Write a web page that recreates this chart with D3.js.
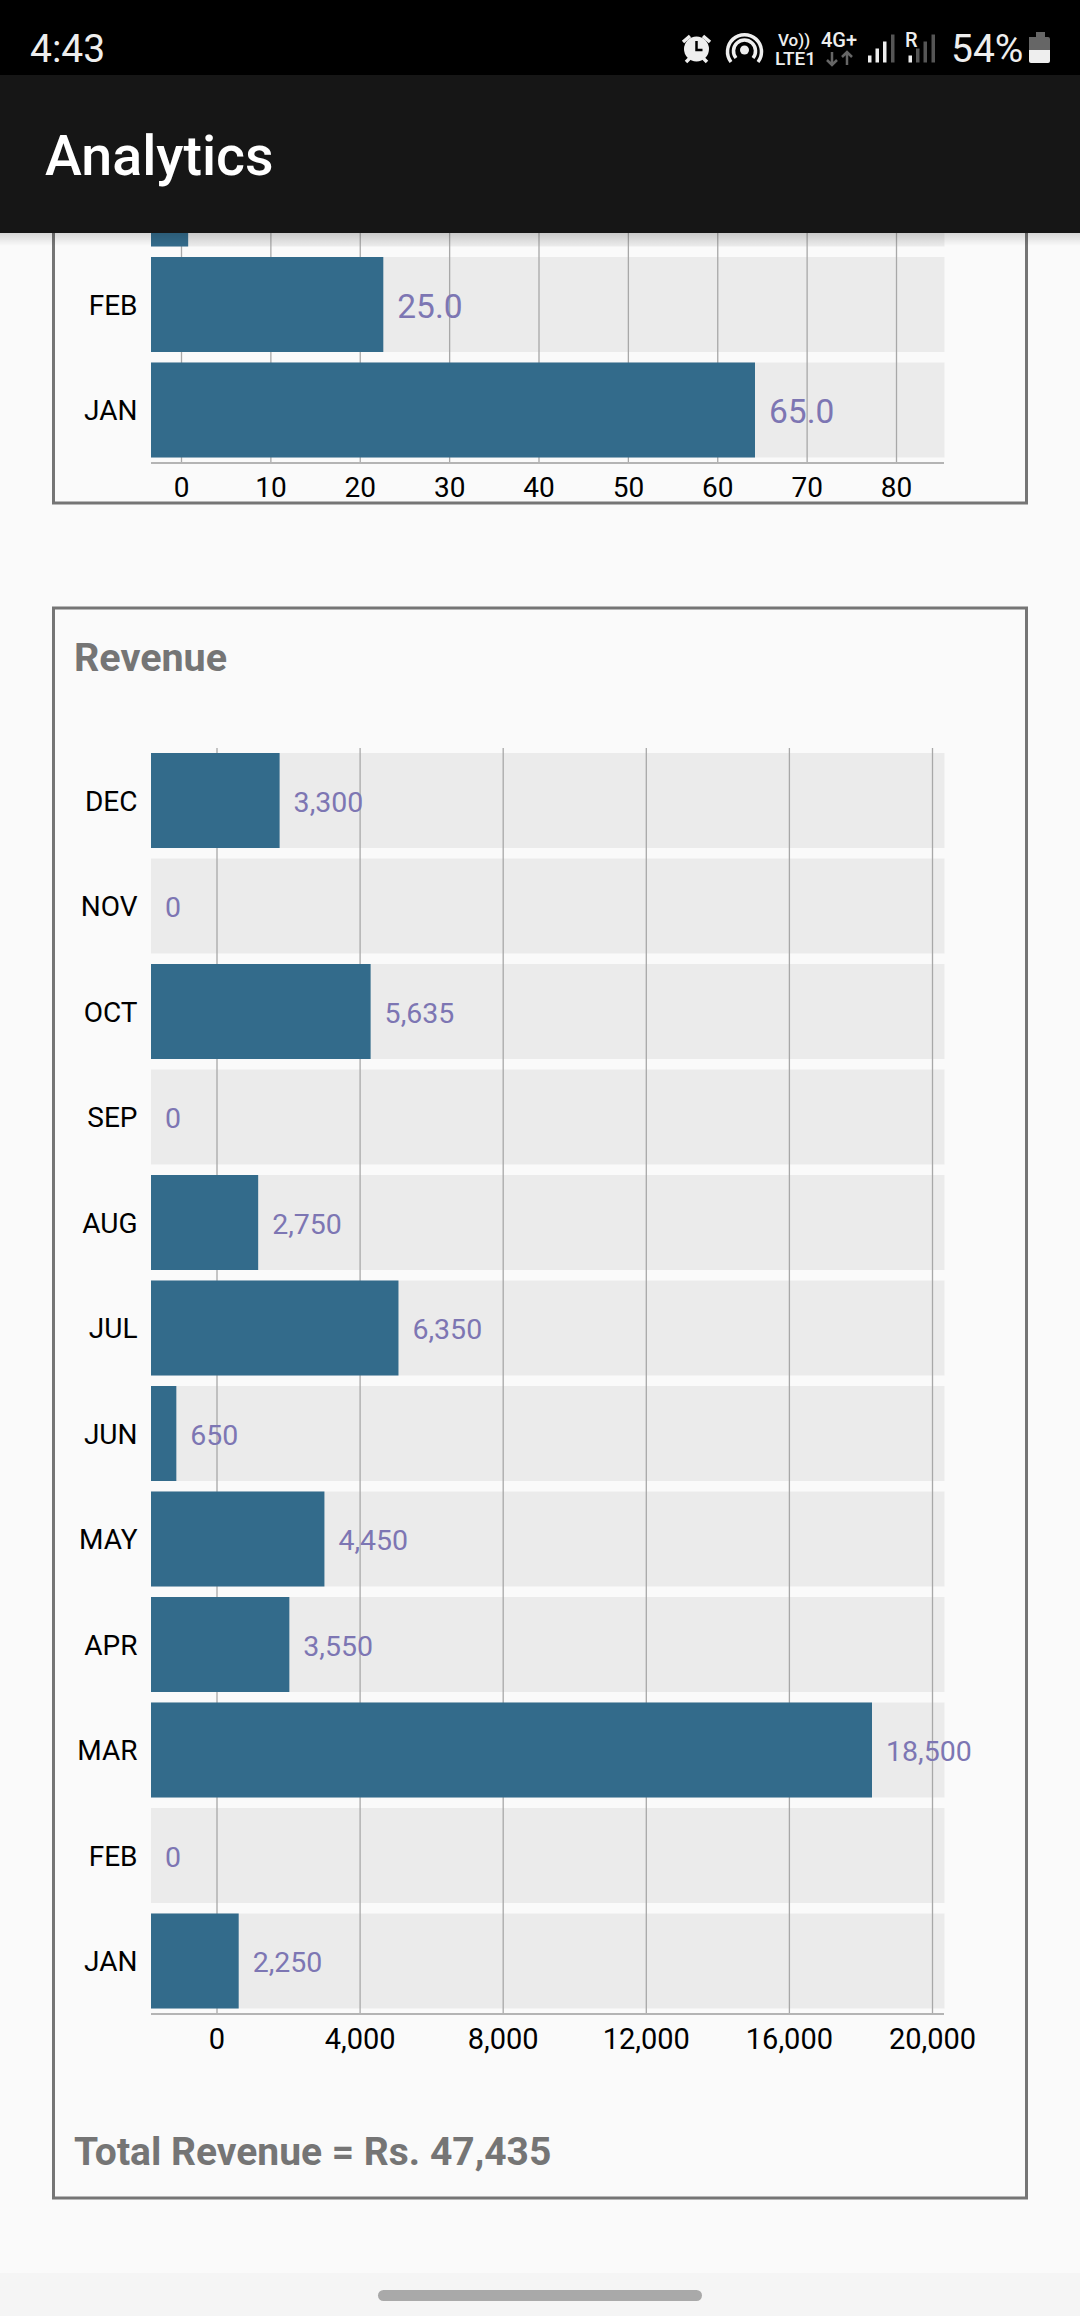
<!DOCTYPE html>
<html><head><meta charset="utf-8">
<script src="https://cdn.jsdelivr.net/npm/d3@7"></script>
<style>
html,body{margin:0;padding:0;background:#fafafa}
svg{display:block}
text{font-family:Roboto,sans-serif}
</style></head><body>
<svg id="c" width="1080" height="2316"></svg>
<script>
const usageCategories = ["MAR","FEB","JAN"];
const usageVisibleNames = ["", "FEB", "JAN"];
const usageValues = [4, 25, 65];
const usageLabels = ["", "25.0", "65.0"];
const usageTicks = [0,10,20,30,40,50,60,70,80];

const revenueCategories = ["DEC","NOV","OCT","SEP","AUG","JUL","JUN","MAY","APR","MAR","FEB","JAN"];
const revenueValues = [3300,0,5635,0,2750,6350,650,4450,3550,18500,0,2250];
const revenueTicks = [0,4000,8000,12000,16000,20000];

const cBar="#336b8b", cTrack="#ebebeb", cGrid="#a8a8a8", cAxis="#b4b4b4", cVal="#7d76b3", cCard="#757575";
const svg=d3.select("#c");
const fmt=d3.format(",");

// cards
function card(top,bottom){
  svg.append("rect").attr("x",53.5).attr("y",top).attr("width",973).attr("height",bottom-top)
    .attr("fill","#fafafa").attr("stroke",cCard).attr("stroke-width",3);
}
card(100,503);
card(608,2198);

function chart(o){
  const g=svg.append("g");
  const y=d3.scaleBand().domain(o.cats).range(o.yRange).paddingInner(0.0995);
  const bx=d3.scaleLinear().domain(o.barDomain).range(o.barRange);
  const ax=d3.scaleLinear().domain(o.axisDomain).range(o.axisRange);
  const rows=g.selectAll(".r").data(o.cats).join("g");
  rows.append("rect").attr("x",151).attr("width",793.5).attr("y",d=>y(d)).attr("height",y.bandwidth()).attr("fill",cTrack);
  // grid + tick labels
  const axis=d3.axisBottom(ax).tickValues(o.ticks).tickFormat(o.tickFmt).tickSize(o.axisY-o.gridTop).tickPadding(0);
  const ag=g.append("g").attr("transform",`translate(0,${o.gridTop})`).call(axis);
  ag.select(".domain").remove();
  ag.selectAll("line").attr("stroke",cGrid).attr("stroke-width",1.3);
  ag.selectAll("text").attr("fill","#000").attr("font-size",o.tickSize).attr("y",o.axisY-o.gridTop+14).attr("dy","0.71em");
  g.append("line").attr("x1",151).attr("x2",944).attr("y1",o.axisY).attr("y2",o.axisY).attr("stroke",cAxis).attr("stroke-width",2);
  // bars
  g.selectAll(".b").data(o.cats).join("rect").attr("x",151)
    .attr("y",d=>y(d)).attr("height",y.bandwidth())
    .attr("width",(d,i)=>bx(o.vals[i])-151).attr("fill",cBar);
  // category labels
  g.selectAll(".c").data(o.cats).join("text").attr("x",137.5).attr("y",d=>y(d)+y.bandwidth()/2)
    .attr("dy","0.36em").attr("text-anchor","end").attr("font-size",28).attr("fill","#000").text((d,i)=>o.names[i]);
  // value labels
  g.selectAll(".v").data(o.cats).join("text")
    .attr("x",(d,i)=>bx(o.vals[i])+14).attr("y",d=>y(d)+y.bandwidth()/2+1)
    .attr("dy","0.36em").attr("font-size",o.valSize).attr("fill",cVal)
    .text((d,i)=>o.labels[i]);
}
chart({cats:usageCategories,names:usageVisibleNames,vals:usageValues,labels:usageLabels,ticks:usageTicks,tickFmt:d=>d,
  yRange:[151.5,457.5],barDomain:[0,65],barRange:[151,755],axisDomain:[0,80],axisRange:[181,896],
  gridTop:140,axisY:463,valSize:33.5,tickSize:28});
chart({cats:revenueCategories,names:revenueCategories,vals:revenueValues,labels:revenueValues.map(fmt),ticks:revenueTicks,tickFmt:fmt,
  yRange:[753,2008.5],barDomain:[0,18500],barRange:[151,872],axisDomain:[0,20000],axisRange:[216.5,932],
  gridTop:748,axisY:2014,valSize:28.5,tickSize:29});

svg.append("text").attr("x",74).attr("y",671).attr("font-size",39.5).attr("font-weight",700).attr("fill",cCard).text("Revenue");
svg.append("text").attr("x",74).attr("y",2165).attr("font-size",39).attr("font-weight",700).attr("fill",cCard).text("Total Revenue = Rs. 47,435");

// app bar
const defs=svg.append("defs");
const sh=defs.append("linearGradient").attr("id","sh").attr("x1",0).attr("x2",0).attr("y1",0).attr("y2",1);
sh.append("stop").attr("offset",0).attr("stop-color","#000").attr("stop-opacity",0.14);
sh.append("stop").attr("offset",1).attr("stop-color","#000").attr("stop-opacity",0);
svg.append("rect").attr("x",0).attr("y",233).attr("width",1080).attr("height",13).attr("fill","url(#sh)");
svg.append("rect").attr("x",0).attr("y",75).attr("width",1080).attr("height",158).attr("fill","#161616");
svg.append("text").attr("x",45).attr("y",175).attr("font-size",55.5).attr("font-weight",500).attr("fill","#fff").text("Analytics");

// status bar
svg.append("rect").attr("width",1080).attr("height",75).attr("fill","#000");
svg.append("text").attr("x",30).attr("y",62).attr("font-size",39).attr("fill","#eee").text("4:43");
svg.append("text").attr("x",951).attr("y",62).attr("font-size",39).attr("fill","#eee").text("54%");
const st=svg.append("g");
// alarm
st.append("circle").attr("cx",696.5).attr("cy",49).attr("r",12.5).attr("fill","#eee");
st.append("path").attr("d","M696.5 41v9h6").attr("fill","none").attr("stroke","#000").attr("stroke-width",2.5);
st.append("path").attr("d","M683 42l7-6M710 42l-7-6M686 62l4-4M707 62l-4-4").attr("stroke","#eee").attr("stroke-width",3.5);
// hotspot
st.append("circle").attr("cx",744.5).attr("cy",50).attr("r",4.5).attr("fill","#eee");
st.append("path").attr("d","M736 58a11 11 0 1 1 17 0M731 62a17 17 0 1 1 27 0").attr("fill","none").attr("stroke","#eee").attr("stroke-width",3.5);
// network text
const small=(x,y,s,t,c)=>st.append("text").attr("x",x).attr("y",y).attr("font-size",s).attr("font-weight",500).attr("fill",c||"#eee").text(t);
small(778,46,17,"Vo))");
small(775,65,19,"LTE1");
small(821,47,20,"4G+");
st.append("path").attr("d","M832 52v13m-5-5l5 5 5-5M847 65v-13m-5 5l5-5 5 5").attr("fill","none").attr("stroke","#666").attr("stroke-width",2.5);
// signal
[[868.5,7,"#eee"],[876,14,"#eee"],[883.5,21,"#eee"],[891.5,28,"#555"]].forEach(d=>st.append("rect").attr("x",d[0]-0.5).attr("y",62.5-d[1]).attr("width",3.5).attr("height",d[1]).attr("fill",d[2]));
small(905,47,20,"R");
[[909,7,"#eee"],[916.5,14,"#555"],[924,21,"#555"],[932,28,"#555"]].forEach(d=>st.append("rect").attr("x",d[0]-0.5).attr("y",62.5-d[1]).attr("width",3.5).attr("height",d[1]).attr("fill",d[2]));
// battery
st.append("path").attr("d","M1029 37h7v-5h9v5h3a2 2 0 0 1 2 2v11h-21z").attr("fill","#666");
st.append("path").attr("d","M1029 50h21v11a2 2 0 0 1-2 2h-17a2 2 0 0 1-2-2z").attr("fill","#eee");

// nav bar
svg.append("rect").attr("y",2273).attr("width",1080).attr("height",43).attr("fill","#f5f5f5");
svg.append("rect").attr("x",378).attr("y",2290).attr("width",324).attr("height",11).attr("rx",5.5).attr("fill","#a9a9a9");
</script></body></html>
